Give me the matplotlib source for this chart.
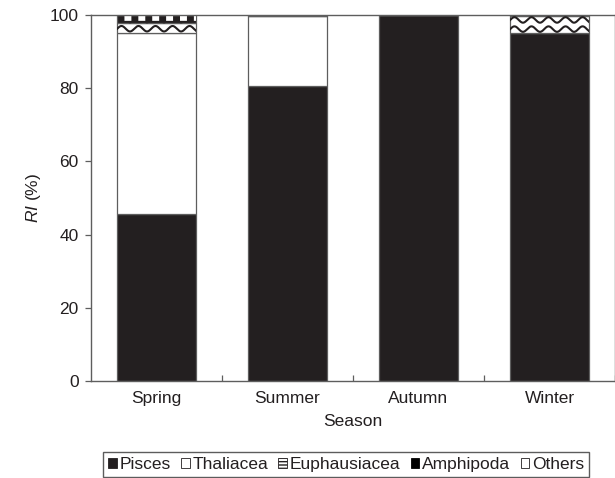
import matplotlib
matplotlib.use("Agg")
import matplotlib.pyplot as plt
import numpy as np
from matplotlib.patches import Patch

plt.rcParams["font.family"] = ["Liberation Sans", "DejaVu Sans"]
plt.rcParams["mathtext.fontset"] = "custom"
plt.rcParams["mathtext.rm"] = "Liberation Sans"
plt.rcParams["mathtext.it"] = "Liberation Sans:italic"
plt.rcParams["lines.scale_dashes"] = False

seasons = ["Spring", "Summer", "Autumn", "Winter"]
pisces = [45.6, 80.6, 100.0, 95.0]
thaliacea = [49.5, 19.1, 0.0, 0.0]
euphausiacea = [2.8, 0.0, 0.0, 4.7]
amphipoda = [2.1, 0.3, 0.0, 0.3]
others = [0.0, 0.0, 0.0, 0.0]

DARK = "#231f20"
EDGE = "#5e5e5e"
TEXT = "#231f20"
FS = 12.5

fig = plt.figure(figsize=(6.15, 4.78), dpi=100)
ax = fig.add_axes([0.148, 0.203, 0.852, 0.766])

x = np.arange(len(seasons))
w = 0.6
series = [
    ("Pisces", pisces, DARK),
    ("Thaliacea", thaliacea, "white"),
    ("Euphausiacea", euphausiacea, "white"),
    ("Amphipoda", amphipoda, DARK),
    ("Others", others, "white"),
]
bottom = np.zeros(len(seasons))
containers = {}
for name, vals, col in series:
    vals = np.array(vals)
    containers[name] = ax.bar(x, vals, w, bottom=bottom, color=col,
                              edgecolor=EDGE, linewidth=0.9, zorder=2)
    bottom += vals

# wavy fill for Euphausiacea
for rect in containers["Euphausiacea"]:
    x0, y0 = rect.get_x(), rect.get_y()
    rw, rh = rect.get_width(), rect.get_height()
    if rh <= 0:
        continue
    xs = np.linspace(x0, x0 + rw, 300)
    yc = y0 + 1.1
    while yc < y0 + rh + 1.0:
        ys = yc + 0.75 * np.sin(2 * np.pi * (xs - x0) / 0.13)
        ln, = ax.plot(xs, ys, color=DARK, lw=1.5, zorder=3)
        ln.set_clip_path(rect)
        yc += 2.5

# block pattern for Amphipoda
for rect in containers["Amphipoda"]:
    x0, y0 = rect.get_x(), rect.get_y()
    rw, rh = rect.get_width(), rect.get_height()
    if rh < 1:
        continue
    ln, = ax.plot([x0, x0 + rw], [y0 + rh * 0.62, y0 + rh * 0.62],
                  color="white", lw=3.4, zorder=3)
    ln.set_linestyle((5.0, (5.0, 5.0)))
    ln.set_dash_capstyle("butt")
    ln.set_clip_path(rect)

ax.set_xlim(-0.5, len(seasons) - 0.5)
ax.set_ylim(0, 100)
ax.set_yticks([0, 20, 40, 60, 80, 100])
ax.set_xticks(x + 0.5)
ax.set_xticklabels([])
ax.set_xticks(x, minor=True)
ax.set_xticklabels(seasons, minor=True)
ax.tick_params(axis="x", which="major", direction="in", length=4,
               width=0.9, color=EDGE)
ax.tick_params(axis="x", which="minor", length=0, pad=7,
               labelsize=FS, labelcolor=TEXT)
ax.tick_params(axis="y", direction="out", length=4, width=0.9, color=EDGE,
               labelsize=FS, labelcolor=TEXT, pad=5)

for side in ["left", "bottom", "top", "right"]:
    ax.spines[side].set_color(EDGE)
    ax.spines[side].set_linewidth(1.0)

ax.set_xlabel("Season", fontsize=FS, color=TEXT, labelpad=6)
ax.set_ylabel("$\\mathit{RI}$ (%)", fontsize=FS, color=TEXT, labelpad=5)

handles = [
    Patch(facecolor=DARK, edgecolor=DARK, lw=0.6),
    Patch(facecolor="white", edgecolor=DARK, lw=0.6),
    Patch(facecolor="white", edgecolor=DARK, lw=0.6, hatch="-----"),
    Patch(facecolor="black", edgecolor="black", lw=0.6),
    Patch(facecolor="white", edgecolor=DARK, lw=0.6),
]
leg = fig.legend(handles, [s[0] for s in series], loc="lower center",
                 bbox_to_anchor=(0.5626, 0.002), ncol=5, fontsize=FS,
                 handlelength=0.5, handleheight=0.5, handletextpad=0.15,
                 columnspacing=0.6, frameon=True, fancybox=False,
                 borderpad=0.3, borderaxespad=0.0, labelcolor=TEXT)
leg.get_frame().set_edgecolor("#333333")
leg.get_frame().set_linewidth(1.0)

fig.savefig("out.png", dpi=100)
